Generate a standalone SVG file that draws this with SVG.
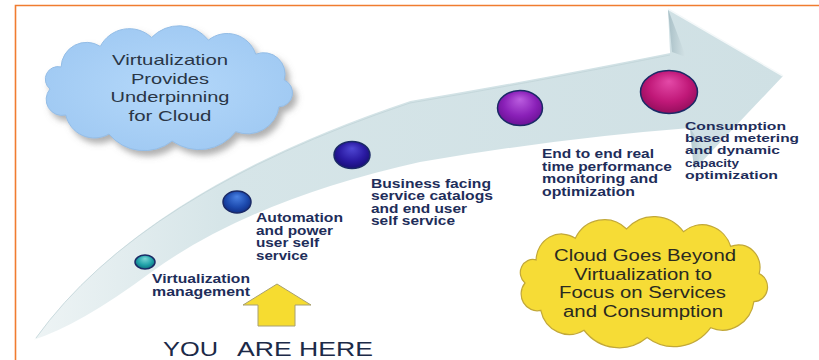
<svg xmlns="http://www.w3.org/2000/svg" width="819" height="360" viewBox="0 0 819 360">
<style>
.step{font-family:"Liberation Sans",Arial,sans-serif;font-weight:bold;font-size:12.5px;fill:#1e2d5a}
.step2{font-family:"Liberation Sans",Arial,sans-serif;font-weight:bold;font-size:11.5px;fill:#1e2d5a}
.cl{font-family:"Liberation Sans",Arial,sans-serif;font-size:15px;fill:#2a3646;text-anchor:middle}
.cy{font-family:"Liberation Sans",Arial,sans-serif;font-size:16px;fill:#2a2a20;text-anchor:middle}
.here{font-family:"Liberation Sans",Arial,sans-serif;font-size:20px;fill:#1c2a48}
.ball{stroke:#1b2a66;stroke-width:1.5}
</style>
<defs>
<path id="cloud" d="M-118,0 A12.6,12.6 0 0 1 -106.9,-22 A25.4,25.4 0 0 1 -67.7,-42.6 A32.6,32.6 0 0 1 -16.4,-51.5 A37.6,37.6 0 0 1 40.4,-48.9 A30,30 0 0 1 87.7,-34.8 A21.4,21.4 0 0 1 116.2,-9 A14,14 0 0 1 110.9,17.8 A31.8,31.8 0 0 1 67.7,42.6 A46.3,46.3 0 0 1 4.1,52 A45.3,45.3 0 0 1 -59,45 A29.2,29.2 0 0 1 -102.2,26 A16,16 0 0 1 -118,0 Z"/>
<filter id="shadow" x="-20%" y="-20%" width="150%" height="160%">
<feGaussianBlur in="SourceAlpha" stdDeviation="3"/>
<feOffset dx="4" dy="5" result="b"/>
<feFlood flood-color="#707070" flood-opacity="0.55"/>
<feComposite in2="b" operator="in"/>
<feMerge><feMergeNode/><feMergeNode in="SourceGraphic"/></feMerge>
</filter>
<linearGradient id="band" gradientUnits="userSpaceOnUse" x1="30" y1="0" x2="790" y2="0">
<stop offset="0" stop-color="#eef4f5"/>
<stop offset="0.25" stop-color="#d6e5e8"/>
<stop offset="1" stop-color="#cfe0e4"/>
</linearGradient>
<linearGradient id="face" x1="0" y1="0" x2="1" y2="0">
<stop offset="0" stop-color="#a9c0c7"/>
<stop offset="1" stop-color="#d4e3e6"/>
</linearGradient>
<radialGradient id="gTeal" cx="0.5" cy="0.45" r="0.6" fx="0.5" fy="0.25">
<stop offset="0" stop-color="#7ad6d6"/><stop offset="0.6" stop-color="#1fa0a8"/><stop offset="1" stop-color="#0b6676"/>
</radialGradient>
<radialGradient id="gBlue" cx="0.5" cy="0.45" r="0.6" fx="0.5" fy="0.25">
<stop offset="0" stop-color="#4a82e4"/><stop offset="0.6" stop-color="#1e4cb0"/><stop offset="1" stop-color="#0e2a80"/>
</radialGradient>
<radialGradient id="gIndigo" cx="0.5" cy="0.45" r="0.6" fx="0.5" fy="0.25">
<stop offset="0" stop-color="#5048d4"/><stop offset="0.6" stop-color="#2a1aa2"/><stop offset="1" stop-color="#150c70"/>
</radialGradient>
<radialGradient id="gPurple" cx="0.5" cy="0.45" r="0.6" fx="0.5" fy="0.25">
<stop offset="0" stop-color="#bb5ee0"/><stop offset="0.6" stop-color="#8a20b8"/><stop offset="1" stop-color="#661090"/>
</radialGradient>
<radialGradient id="gMag" cx="0.5" cy="0.45" r="0.6" fx="0.5" fy="0.25">
<stop offset="0" stop-color="#e44aa8"/><stop offset="0.6" stop-color="#c01878"/><stop offset="1" stop-color="#8e0c58"/>
</radialGradient>
<radialGradient id="gCloudB" cx="0.5" cy="0.5" r="0.6">
<stop offset="0" stop-color="#b4d8fa"/><stop offset="1" stop-color="#9ec8f2"/>
</radialGradient>
</defs>

<rect width="819" height="360" fill="#ffffff"/>
<g id="frame" fill="none" stroke="#f07c30" stroke-width="1.6">
<path d="M15.5,360 V5.5 H819"/>
</g>

<g id="arrow">
<path d="M33,340 Q140,190 410,100 Q530,80 670,52 L668,9 L783,76 L694,170 L690,128 Q560,138 420,162 Q250,200 150,273 Q80,325 33,340 Z" fill="url(#band)"/>
<path d="M668,9 L672,52 L686,57 Z" fill="url(#face)"/>
<path d="M690,128 L694,170 L704,150 Z" fill="url(#face)" opacity="0.7"/>
<path d="M33,340 Q140,190 410,100 Q530,80 670,52" fill="none" stroke="#ffffff" stroke-width="2"/>
<path d="M36,338 Q140,193 410,103 Q530,83 670,55" fill="none" stroke="#c2d4d8" stroke-width="0.8"/>
<path d="M668,9 L783,76" fill="none" stroke="#f4f8f9" stroke-width="1.5"/>
</g>

<g id="cloud-virtualization">
<use href="#cloud" transform="translate(168,89)" fill="url(#gCloudB)" stroke="#94bde6" stroke-width="1" filter="url(#shadow)"/>
<text class="cl" x="170" y="65" textLength="116" lengthAdjust="spacingAndGlyphs">Virtualization</text>
<text class="cl" x="170" y="83.5" textLength="78" lengthAdjust="spacingAndGlyphs">Provides</text>
<text class="cl" x="170" y="102" textLength="119" lengthAdjust="spacingAndGlyphs">Underpinning</text>
<text class="cl" x="170" y="120.5" textLength="83" lengthAdjust="spacingAndGlyphs">for Cloud</text>
</g>

<g id="step-virtualization-management">
<ellipse class="ball" cx="145" cy="262" rx="10" ry="7" fill="url(#gTeal)"/>
<text class="step" x="152" y="283" textLength="98" lengthAdjust="spacingAndGlyphs">Virtualization</text>
<text class="step" x="152" y="295.5" textLength="98" lengthAdjust="spacingAndGlyphs">management</text>
</g>

<g id="step-automation">
<ellipse class="ball" cx="237" cy="202" rx="14" ry="11" fill="url(#gBlue)"/>
<text class="step" x="256" y="222" textLength="87" lengthAdjust="spacingAndGlyphs">Automation</text>
<text class="step" x="256" y="234.5" textLength="77" lengthAdjust="spacingAndGlyphs">and power</text>
<text class="step" x="256" y="247" textLength="63" lengthAdjust="spacingAndGlyphs">user self</text>
<text class="step" x="256" y="259.5" textLength="52" lengthAdjust="spacingAndGlyphs">service</text>
</g>

<g id="step-business">
<ellipse class="ball" cx="352" cy="155" rx="18" ry="13.5" fill="url(#gIndigo)"/>
<text class="step" x="371" y="187.5" textLength="120" lengthAdjust="spacingAndGlyphs">Business facing</text>
<text class="step" x="371" y="200" textLength="122" lengthAdjust="spacingAndGlyphs">service catalogs</text>
<text class="step" x="371" y="212.5" textLength="96" lengthAdjust="spacingAndGlyphs">and end user</text>
<text class="step" x="371" y="225" textLength="84" lengthAdjust="spacingAndGlyphs">self service</text>
</g>

<g id="step-monitoring">
<ellipse class="ball" cx="520" cy="108" rx="22.5" ry="17.5" fill="url(#gPurple)"/>
<text class="step" x="542" y="158" textLength="112" lengthAdjust="spacingAndGlyphs">End to end real</text>
<text class="step" x="542" y="170.5" textLength="130" lengthAdjust="spacingAndGlyphs">time performance</text>
<text class="step" x="542" y="183" textLength="116" lengthAdjust="spacingAndGlyphs">monitoring and</text>
<text class="step" x="542" y="195.5" textLength="93" lengthAdjust="spacingAndGlyphs">optimization</text>
</g>

<g id="step-consumption">
<ellipse class="ball" cx="669" cy="92" rx="28.5" ry="21.5" fill="url(#gMag)"/>
<text class="step2" x="685" y="130" textLength="101" lengthAdjust="spacingAndGlyphs">Consumption</text>
<text class="step2" x="685" y="142.2" textLength="114" lengthAdjust="spacingAndGlyphs">based metering</text>
<text class="step2" x="685" y="154.4" textLength="95" lengthAdjust="spacingAndGlyphs">and dynamic</text>
<text class="step2" x="685" y="166.6" textLength="54" lengthAdjust="spacingAndGlyphs">capacity</text>
<text class="step2" x="685" y="178.8" textLength="93" lengthAdjust="spacingAndGlyphs">optimization</text>
</g>

<g id="cloud-beyond">
<use href="#cloud" transform="translate(643,283) scale(1,1.05)" fill="#f6dc36" stroke="#c2a838" stroke-width="1.2"/>
<text class="cy" x="645" y="261" textLength="182" lengthAdjust="spacingAndGlyphs">Cloud Goes Beyond</text>
<text class="cy" x="643" y="279.5" textLength="138" lengthAdjust="spacingAndGlyphs">Virtualization to</text>
<text class="cy" x="642.5" y="298" textLength="167" lengthAdjust="spacingAndGlyphs">Focus on Services</text>
<text class="cy" x="643" y="316.5" textLength="160" lengthAdjust="spacingAndGlyphs">and Consumption</text>
</g>

<g id="you-are-here">
<polygon points="277,284 311,305 295,305 295,326 258,326 258,305 243,305" fill="#f6dc30" stroke="#a8a070" stroke-width="1"/>
<text class="here" x="163" y="356" textLength="55" lengthAdjust="spacingAndGlyphs">YOU</text>
<text class="here" x="237" y="356" textLength="136" lengthAdjust="spacingAndGlyphs">ARE HERE</text>
</g>
</svg>
